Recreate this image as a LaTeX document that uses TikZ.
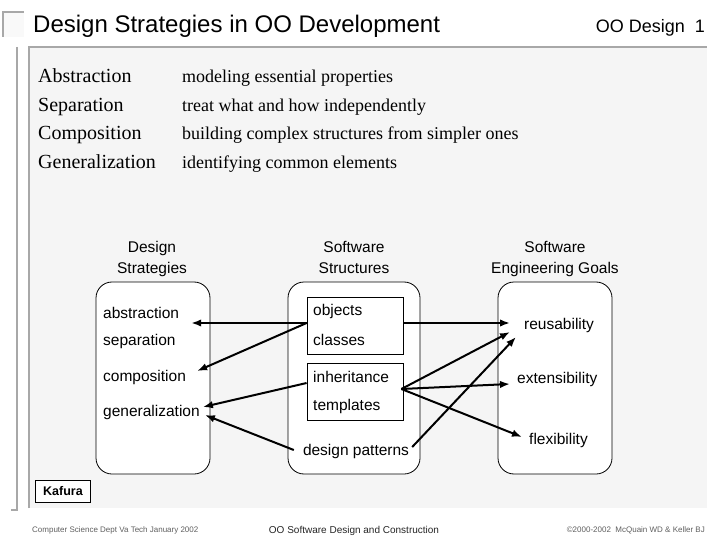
\documentclass[tikz,border=0pt]{standalone}
\usepackage{fontspec}
\setmainfont{Liberation Serif}
\setsansfont{Liberation Sans}
\usepackage{xcolor}
\usepackage{tikz}
\usetikzlibrary{positioning,arrows.meta}
\definecolor{panelgray}{HTML}{F5F5F5}
\definecolor{framegray}{HTML}{A8A8A8}
\definecolor{footgray}{HTML}{606060}

\begin{document}
\begin{tikzpicture}[x=1pt, y=-1pt,
  every node/.style={font=\sffamily\fontsize{15.5}{21}\selectfont},
  item/.style={anchor=west, inner sep=0pt},
  term/.style={anchor=base west, inner sep=0pt, font=\rmfamily\fontsize{20}{24}\selectfont},
  defn/.style={anchor=base west, inner sep=0pt, font=\rmfamily\fontsize{18}{22}\selectfont},
  head/.style={align=center, inner sep=0pt},
  column/.style={draw=black, fill=white, line width=0.8pt, rounded corners=16pt,
                 minimum height=192pt},
  group/.style={draw=black, fill=white, line width=0.8pt, minimum width=96pt,
                minimum height=57pt},
  flow/.style={-{Latex[length=10pt,width=7.5pt]}, line width=2pt, draw=black},
  frameline/.style={draw=framegray, line width=2pt}
]
\useasboundingbox[fill=white] (0,0) rectangle (720,540);
% slide frame
\fill[panelgray] (29,47) rectangle (707,508);
\draw[frameline] (29,508) -- (29,47) -- (707,47);
\draw[draw=framegray, line width=1.2pt] (17,47) -- (17,510) -- (11,510);
\fill[panelgray!60] (3,12) rectangle (24,37);
\draw[draw=framegray, line width=1.2pt] (3,37) -- (3,12) -- (24,12);
\node[anchor=base west, inner sep=0pt, font=\sffamily\fontsize{24}{28}\selectfont]
  (title) at (33,33) {Design Strategies in OO Development};
\node[anchor=base east, inner sep=0pt, font=\sffamily\fontsize{18}{22}\selectfont]
  (slideno) at (705,33) {OO Design\ \ 1};

% definitions
\node[term] (abstrterm)  at (38,83)  {Abstraction};
\node[term] (separterm)  at (38,112) {Separation};
\node[term] (composterm) at (38,140) {Composition};
\node[term] (generterm)  at (38,169) {Generalization};
\node[defn] (abstrdef)   at (182,83)  {modeling essential properties};
\node[defn] (separdef)   at (182,112) {treat what and how independently};
\node[defn] (composdef)  at (182,140) {building complex structures from simpler ones};
\node[defn] (generdef)   at (182,169) {identifying common elements};

% column headings
\node[head] (strathead)  at (152,259) {Design\strut\\Strategies\strut};
\node[head] (structhead) at (354,259) {Software\strut\\Structures\strut};
\node[head] (goalhead)   at (555,259) {Software\strut\\Engineering Goals\strut};

% three columns
\node[column, minimum width=114pt] (strat)  at (153,378) {};
\node[column, minimum width=132pt] (struct) at (354,378) {};
\node[column, minimum width=114pt] (goals)  at (555,378) {};
\node[group] (objcls) at (355,325.5) {};
\node[group] (inhtpl) at (355,391.5) {};

\node[item] (abstr)   at (103,313) {abstraction};
\node[item] (separ)   at (103,341) {separation};
\node[item] (compos)  at (103,377) {composition};
\node[item] (general) at (103,412) {generalization};
\node[item] (objects) at (313,311) {objects};
\node[item] (classes) at (313,340) {classes};
\node[item] (inherit) at (313,377) {inheritance};
\node[item] (templ)   at (313,406) {templates};
\node[inner sep=0pt] (dpat) at (356,451) {design patterns};
\node[item] (reuse)   at (524,325) {reusability};
\node[item] (extend)  at (517,379) {extensibility};
\node[item] (flex)    at (529,440) {flexibility};

% structures -> strategies
\draw[flow] ([yshift=2.5pt]objcls.west) -- ([shift={(12pt,-10pt)}]abstr.east);
\draw[flow] ([yshift=2.5pt]objcls.west) -- ([shift={(11pt,6pt)}]compos.east);
\draw[flow] ([yshift=8.5pt]inhtpl.west) -- ([shift={(3pt,5pt)}]general.east);
\draw[flow] ([shift={(-9pt,1pt)}]dpat.west) -- ([shift={(5pt,-3pt)}]general.east);
% structures -> goals
\coordinate (hub) at ([shift={(-2pt,2.5pt)}]inhtpl.east);
\draw[flow] ([yshift=2.5pt]objcls.east) -- ([shift={(-14pt,2pt)}]reuse.west);
\draw[flow] (hub) -- ([shift={(-14pt,-7pt)}]reuse.west);
\draw[flow] (hub) -- ([shift={(-7pt,-5pt)}]extend.west);
\draw[flow] (hub) -- ([shift={(-7pt,3pt)}]flex.west);
\draw[flow] ([shift={(3pt,4pt)}]dpat.east) -- ([shift={(-8pt,-12pt)}]reuse.west);

% author tag and footer
\node[draw=black, fill=white, line width=0.8pt, minimum width=55pt, minimum height=22pt,
  inner sep=0pt, font=\sffamily\bfseries\fontsize{12.5}{14}\selectfont] (kafura) at (63,491) {Kafura};
\node[anchor=base west, inner sep=0pt, text=footgray, font=\sffamily\fontsize{8}{9}\selectfont]
  (footleft) at (32,532) {Computer Science Dept Va Tech January 2002};
\node[anchor=base, inner sep=0pt, text=black!85, font=\sffamily\fontsize{10}{11}\selectfont]
  (footmid) at (354,533) {OO Software Design and Construction};
\node[anchor=base east, inner sep=0pt, text=footgray, font=\sffamily\fontsize{8}{9}\selectfont]
  (footright) at (705,532) {©2000-2002\ \ McQuain WD \& Keller BJ};
\end{tikzpicture}
\end{document}
